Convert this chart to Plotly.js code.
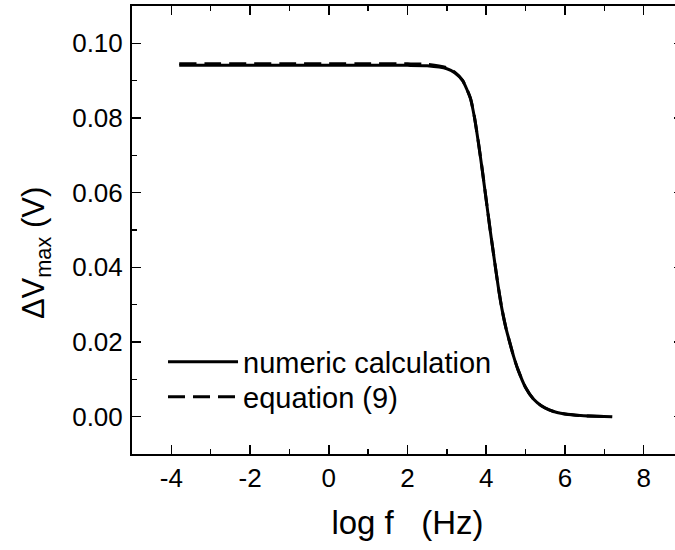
<!DOCTYPE html>
<html>
<head>
<meta charset="utf-8">
<script src="https://cdn.plot.ly/plotly-3.0.1.min.js"></script>
<style>
html, body { margin: 0; padding: 0; overflow: hidden; background: #fff; }
#chart { width: 690px; height: 550px; }
</style>
</head>
<body>
<div id="chart"></div>
<script>
// log f (Hz)
const logF = [-3.8, -3, -2, -1, 0, 1, 2, 2.5, 3.0, 3.2, 3.4, 3.6, 3.7, 3.8, 3.9, 4.0, 4.1, 4.2, 4.3, 4.4, 4.5, 4.6, 4.7, 4.8, 5.0, 5.2, 5.4, 5.6, 5.8, 6.0, 6.4, 6.8, 7.2];
// numeric calculation, ΔVmax (V)
const numericV = [0.0941, 0.0941, 0.0941, 0.0941, 0.0941, 0.0941, 0.0941, 0.0940, 0.0932, 0.0921, 0.0900, 0.0852, 0.0802, 0.0735, 0.0660, 0.0580, 0.0500, 0.0425, 0.0352, 0.0288, 0.0238, 0.0198, 0.0160, 0.0128, 0.0078, 0.0047, 0.0029, 0.0018, 0.0011, 0.0007, 0.0003, 0.0001, 0.0000];
// equation (9), ΔVmax (V)
const equationV = [0.0945, 0.0945, 0.0945, 0.0945, 0.0945, 0.0945, 0.0945, 0.0944, 0.0935, 0.0923, 0.0901, 0.0853, 0.0803, 0.0736, 0.0661, 0.0581, 0.0501, 0.0426, 0.0352, 0.0288, 0.0238, 0.0198, 0.0160, 0.0128, 0.0078, 0.0047, 0.0029, 0.0018, 0.0011, 0.0007, 0.0003, 0.0001, 0.0000];
const seriesNames = ["numeric calculation", "equation (9)"];
const xTicks = [-4, -2, 0, 2, 4, 6, 8];
const yTicks = [0.00, 0.02, 0.04, 0.06, 0.08, 0.10];

const font = "Liberation Sans, Arial, sans-serif";

const traces = [
  {x: logF, y: numericV, name: seriesNames[0], type: "scatter", mode: "lines", legend: "legend",
   line: {color: "#000", width: 3, shape: "spline", smoothing: 0.6}},
  {x: logF, y: equationV, name: seriesNames[1], type: "scatter", mode: "lines", legend: "legend2",
   line: {color: "#000", width: 3, dash: "17px,8px", shape: "spline", smoothing: 0.6}}
];

const axisCommon = {
  showgrid: false, zeroline: false, showline: true, linecolor: "#000", linewidth: 2,
  mirror: "ticks", ticks: "inside", ticklen: 9, tickwidth: 1.5, tickcolor: "#000",
  tickfont: {family: font, size: 26, color: "#000"}
};

const legendCommon = {
  xanchor: "left", yanchor: "middle",
  bgcolor: "rgba(0,0,0,0)", borderwidth: 0,
  font: {family: font, size: 29, color: "#000"},
  itemwidth: 70
};

const layout = {
  width: 690, height: 550,
  margin: {l: 132, r: 7, t: 6, b: 96},
  paper_bgcolor: "#fff", plot_bgcolor: "#fff",
  font: {family: font, color: "#000"},
  xaxis: Object.assign({}, axisCommon, {
    range: [-5, 9], tickvals: xTicks, ticktext: xTicks.map(String),
    minor: {dtick: 1, tick0: 0, ticks: "inside", ticklen: 5, tickwidth: 1.5, tickcolor: "#000"},
    ticklabelstandoff: 0,
    title: {text: "log f   (Hz)", font: {family: font, size: 33, color: "#000"}, standoff: 19}
  }),
  yaxis: Object.assign({}, axisCommon, {
    range: [-0.01, 0.11], tickvals: yTicks, ticktext: yTicks.map(v => v.toFixed(2)),
    minor: {dtick: 0.01, tick0: 0, ticks: "inside", ticklen: 5, tickwidth: 1.5, tickcolor: "#000"},
    ticklabelstandoff: 2
  }),
  annotations: [{
    text: "ΔV<sub>max</sub> (V)", textangle: -90, showarrow: false,
    xref: "paper", yref: "paper", x: -0.175, y: 0.4475, xanchor: "center", yanchor: "middle",
    font: {family: font, size: 31, color: "#000"}
  }],
  showlegend: true,
  legend: Object.assign({}, legendCommon, {x: 0.0563, y: 0.2054}),
  legend2: Object.assign({}, legendCommon, {x: 0.0563, y: 0.1272})
};

Plotly.newPlot("chart", traces, layout, {displayModeBar: false, staticPlot: true});
</script>
</body>
</html>
